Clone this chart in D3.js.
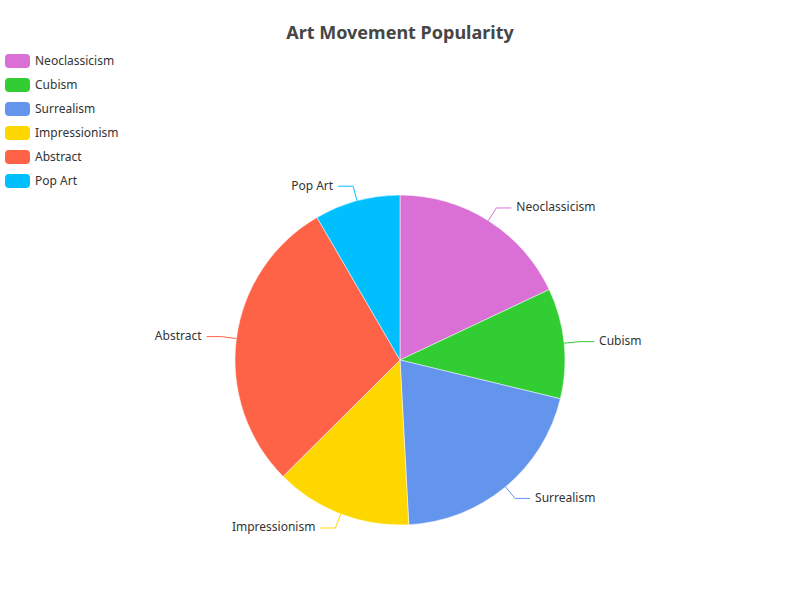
<!DOCTYPE html>
<html><head><meta charset="utf-8">
<script src="https://cdn.jsdelivr.net/npm/d3@7"></script>
<style>body{margin:0;background:#fff}svg{display:block;font-family:"Noto Sans","Open Sans",sans-serif}</style>
</head><body>
<svg id="c" width="800" height="600"></svg>
<script>
const categories = ["Neoclassicism","Cubism","Surrealism","Impressionism","Abstract","Pop Art"];
const values = [18, 10.8, 20.4, 13.4, 29.1, 8.4];
const colors = ["#da70d6","#32cd32","#6495ed","#ffd700","#ff6347","#00bfff"];
const title = "Art Movement Popularity";

const svg = d3.select("#c");
const W = 800, H = 600;
const cx = W*0.5, cy = H*0.6, R = 165;

svg.append("text").attr("x", W/2).attr("y", 39).attr("text-anchor","middle")
  .attr("font-size",18).attr("font-weight","bold").attr("fill","#464646").text(title);

const data = categories.map((c,i)=>({name:c, value:values[i], color:colors[i]}));
const pie = d3.pie().sort(null).value(d=>d.value);
const arcs = pie(data);
const arc = d3.arc().innerRadius(0).outerRadius(R);
const g = svg.append("g").attr("transform",`translate(${cx},${cy})`);
g.selectAll("path").data(arcs).join("path").attr("d",arc).attr("fill",d=>d.data.color)
  .attr("stroke","#fff").attr("stroke-width",0.5);

arcs.forEach(a=>{
  const m = (a.startAngle+a.endAngle)/2;
  const s = Math.sin(m), c = -Math.cos(m);
  const p0 = [R*s, R*c], p1 = [(R+15)*s, (R+15)*c];
  const dir = s >= 0 ? 1 : -1;
  const p2 = [p1[0]+dir*15, p1[1]];
  g.append("polyline").attr("points",[p0,p1,p2].map(p=>p.join(",")).join(" "))
    .attr("fill","none").attr("stroke",a.data.color).attr("stroke-width",1);
  g.append("text").attr("x",p2[0]+dir*5).attr("y",p2[1]).attr("dy","0.28em")
    .attr("text-anchor", dir>0?"start":"end").attr("font-size",12).attr("fill","#333")
    .text(a.data.name);
});

const lg = svg.append("g");
data.forEach((d,i)=>{
  const y = 61 + i*24;
  lg.append("rect").attr("x",5).attr("y",y-7).attr("width",25).attr("height",14)
    .attr("rx",4).attr("fill",d.color);
  lg.append("text").attr("x",35).attr("y",y).attr("dy","0.32em").attr("font-size",12)
    .attr("fill","#333").text(d.name);
});
</script>
</body></html>
